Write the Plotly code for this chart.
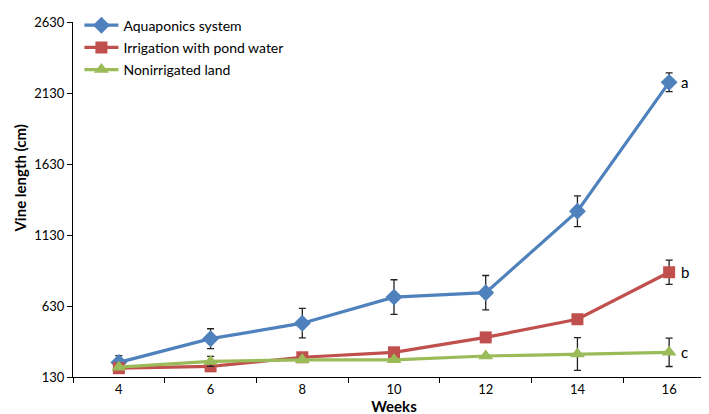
import plotly.graph_objects as go

weeks = ["4", "6", "8", "10", "12", "14", "16"]
aquaponics = [233, 400, 509, 693, 724, 1298, 2206]
aquaponics_err = [48, 70, 104, 122, 121, 108, 66]
pond = [192, 205, 269, 304, 409, 537, 868]
pond_err = [0, 0, 0, 0, 0, 0, 85]
nonirrigated = [199, 240, 251, 251, 278, 292, 304]
nonirrigated_err = [0, 35, 0, 0, 0, 115, 100]
series_names = ["Aquaponics system", "Irrigation with pond water", "Nonirrigated land"]
end_labels = ["a", "b", "c"]
y_ticks = [130, 630, 1130, 1630, 2130, 2630]

colors = ["#4F81BD", "#C0504D", "#9BBB59"]
symbols = ["diamond", "square", "triangle-up"]
sizes = [13, 12, 13]
FONT = "Lato, Open Sans, sans-serif"

fig = go.Figure()
data = [(aquaponics, aquaponics_err), (pond, pond_err), (nonirrigated, nonirrigated_err)]
for i, (vals, errs) in enumerate(data):
    fig.add_trace(go.Scatter(
        x=weeks, y=vals, name=series_names[i], mode="lines+markers",
        line=dict(color=colors[i], width=3.2),
        marker=dict(symbol=symbols[i], size=sizes[i], color=colors[i]),
        error_y=dict(type="data", array=errs, visible=True, color="#222222",
                     thickness=1.3, width=3.5),
        legendgroup=str(i),
    ))
    fig.add_annotation(x=len(weeks) - 1, y=vals[-1], text=end_labels[i], showarrow=False,
                       xanchor="left", xshift=10, font=dict(size=15, color="black", family=FONT))

fig.add_annotation(xref="paper", yref="paper", x=-0.082, y=0.56, text="<b>Vine length (cm)</b>",
                   textangle=-90, showarrow=False, xanchor="center", yanchor="middle",
                   font=dict(size=15, family=FONT, color="black"))

fig.update_layout(
    width=709, height=414,
    margin=dict(l=65, r=2, t=7, b=45),
    plot_bgcolor="white", paper_bgcolor="white",
    font=dict(family=FONT, size=13, color="black"),
    showlegend=True,
    legend=dict(x=0.01, y=1.035, xanchor="left", yanchor="top",
                font=dict(size=14, family=FONT), bgcolor="rgba(0,0,0,0)",
                tracegroupgap=1, itemwidth=34),
)
fig.update_xaxes(
    type="category", range=[-0.5, 6.5], tickson="boundaries",
    showline=True, linecolor="black", linewidth=1,
    ticks="outside", ticklen=5, tickcolor="black", showgrid=False, zeroline=False,
    title=dict(text="<b>Weeks</b>", font=dict(size=15, family=FONT), standoff=4),
    tickfont=dict(size=13),
)
fig.update_yaxes(
    range=[130, 2631], tickvals=y_ticks, ticktext=[str(v) for v in y_ticks],
    showline=True, linecolor="black", linewidth=1,
    ticks="outside", ticklen=5, tickcolor="black", showgrid=False, zeroline=False,
    tickfont=dict(size=13), ticklabeloverflow="allow",
)

fig.write_html("out.html")
